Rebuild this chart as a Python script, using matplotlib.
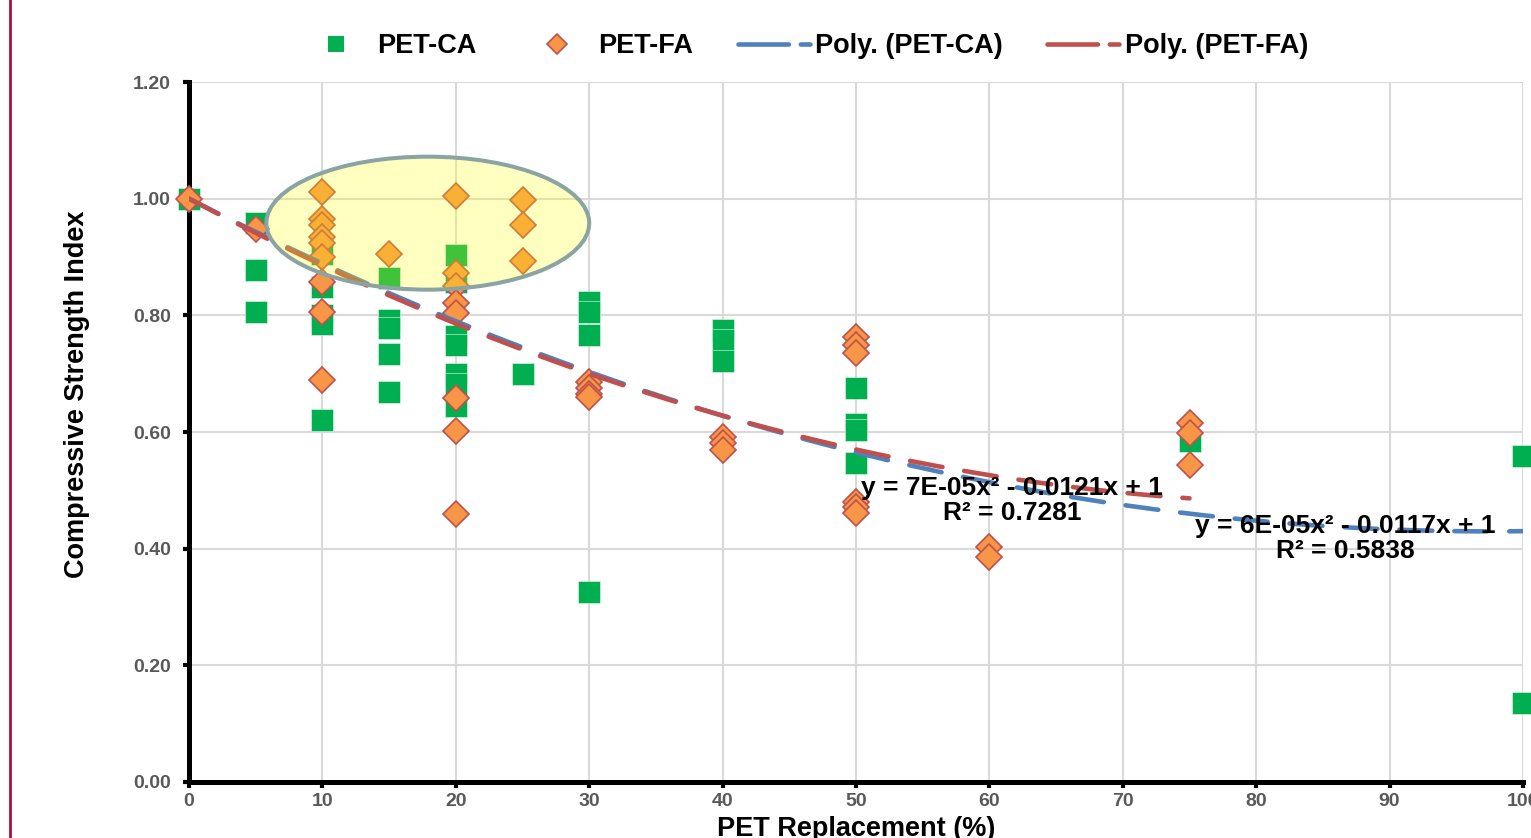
import numpy as np
import matplotlib
matplotlib.use("Agg")
import matplotlib.pyplot as plt
from matplotlib.lines import Line2D
from matplotlib.patches import Ellipse

plt.rcParams['font.family'] = ['Liberation Sans', 'DejaVu Sans']

# PET as coarse aggregate replacement
ca_x = [0, 5, 5, 5, 10, 10, 10, 10, 10, 15, 15, 15, 15, 15,
        20, 20, 20, 20, 20, 20, 20, 25, 30, 30, 30, 30,
        40, 40, 40, 50, 50, 50, 50, 75, 100, 100]
ca_y = [1.00, 0.958, 0.877, 0.806, 0.905, 0.849, 0.800, 0.785, 0.620,
        0.864, 0.792, 0.778, 0.734, 0.668,
        0.903, 0.858, 0.765, 0.750, 0.700, 0.683, 0.645, 0.700,
        0.823, 0.806, 0.766, 0.325,
        0.775, 0.758, 0.722, 0.675, 0.614, 0.604, 0.547, 0.585, 0.559, 0.135]

# PET as fine aggregate replacement
fa_x = [0, 5, 10, 10, 10, 10, 10, 10, 10, 10, 10, 15,
        20, 20, 20, 20, 20, 20, 20, 20, 25, 25, 25,
        30, 30, 30, 30, 40, 40, 40, 50, 50, 50, 50, 50, 50,
        60, 60, 75, 75, 75]
fa_y = [1.00, 0.948, 1.012, 0.965, 0.955, 0.934, 0.924, 0.900, 0.858, 0.806, 0.689, 0.905,
        1.005, 0.873, 0.850, 0.821, 0.804, 0.659, 0.602, 0.459, 0.997, 0.955, 0.894,
        0.685, 0.675, 0.665, 0.660, 0.592, 0.581, 0.569,
        0.763, 0.749, 0.736, 0.480, 0.472, 0.461,
        0.403, 0.386, 0.615, 0.598, 0.543]

# polynomial trendlines as reported on the chart
ca_coef = [6e-05, -0.0117, 1]
fa_coef = [7e-05, -0.0121, 1]
ca_eq = "y = 6E-05x² - 0.0117x + 1\nR² = 0.5838"
fa_eq = "y = 7E-05x² - 0.0121x + 1\nR² = 0.7281"

green = '#00B050'
orange = '#F79646'
red = '#C0504D'
blue = '#4F81BD'

fig = plt.figure(figsize=(15.31, 8.38), dpi=100)
ax = fig.add_axes([189/1531, 1 - 782/838, 1334/1531, 700/838])

ax.plot(ca_x, ca_y, ls='none', marker='s', ms=15.5, color=green,
        markeredgecolor='#E8F6EC', markeredgewidth=0.4, clip_on=False, zorder=3)
ax.plot(fa_x, fa_y, ls='none', marker='D', ms=13.2, markerfacecolor=orange,
        markeredgecolor=red, markeredgewidth=1.2, clip_on=False, zorder=4)

xc = np.linspace(0, 100, 200)
xf = np.linspace(0, 75, 200)
l1, = ax.plot(xc, np.polyval(ca_coef, xc), color=blue, lw=3.3, zorder=5,
              dash_capstyle='round')
l1.set_dashes([7.2, 4.8])
l2, = ax.plot(xf, np.polyval(fa_coef, xf), color=red, lw=3.3, zorder=6,
              dash_capstyle='round')
l2.set_dashes([7.2, 4.8])

ell = Ellipse((17.9, 0.958), 24.2, 0.228, facecolor=(1, 1, 0, 0.25),
              edgecolor='#8AA3A3', lw=2.9, zorder=7)
ax.add_patch(ell)

ax.text(61.7, 0.483, fa_eq, ha='center', va='center', fontsize=19,
        fontweight='bold', linespacing=1.05, zorder=8)
ax.text(86.7, 0.418, ca_eq, ha='center', va='center', fontsize=19,
        fontweight='bold', linespacing=1.05, zorder=8)

ax.set_xlim(0, 100)
ax.set_ylim(0, 1.2)
ax.set_xticks(np.arange(0, 101, 10))
ax.set_yticks(np.arange(0, 1.21, 0.2))
ax.set_yticklabels([f"{v:.2f}" for v in np.arange(0, 1.21, 0.2)])
ax.grid(True, color='#D9D9D9', lw=1.5, zorder=0)
ax.set_axisbelow(True)
for s in ['top', 'right']:
    ax.spines[s].set_visible(False)
for s in ['left', 'bottom']:
    ax.spines[s].set_linewidth(3.6)
    ax.spines[s].set_zorder(2.5)
ax.tick_params(direction='out', length=4, width=3, color='black',
               labelsize=14, labelcolor='#595959')
ax.tick_params(axis='y', pad=9)
ax.tick_params(axis='x', pad=4)
for lab in ax.get_xticklabels() + ax.get_yticklabels():
    lab.set_fontweight('bold')

ax.set_xlabel('PET Replacement (%)', fontsize=19.5, fontweight='bold', labelpad=4)
ax.set_ylabel('Compressive Strength Index', fontsize=19.5, fontweight='bold')
ax.yaxis.set_label_coords(-0.0742, 0.554)

handles = [
    Line2D([], [], ls='none', marker='s', ms=12, color=green, markeredgewidth=0),
    Line2D([], [], ls='none', marker='D', ms=10, markerfacecolor=orange,
           markeredgecolor=red, markeredgewidth=1.2),
    Line2D([], [], color=blue, lw=3.3, dashes=[11, 2.6], dash_capstyle='round'),
    Line2D([], [], color=red, lw=3.3, dashes=[11, 2.6], dash_capstyle='round'),
]
labels = ['PET-CA', 'PET-FA', 'Poly. (PET-CA)', 'Poly. (PET-FA)']
fig.legend(handles, labels, loc='center', bbox_to_anchor=(804/1531, 1 - 46/838),
           ncol=4, frameon=False, prop={'weight': 'bold', 'size': 19.5},
           handlelength=2.66, handletextpad=0.2, columnspacing=1.63)

fig.add_artist(Line2D([10/1531, 10/1531], [0, 1], transform=fig.transFigure,
                      color='#A50F45', lw=2))

fig.savefig('out.png', dpi=100)
